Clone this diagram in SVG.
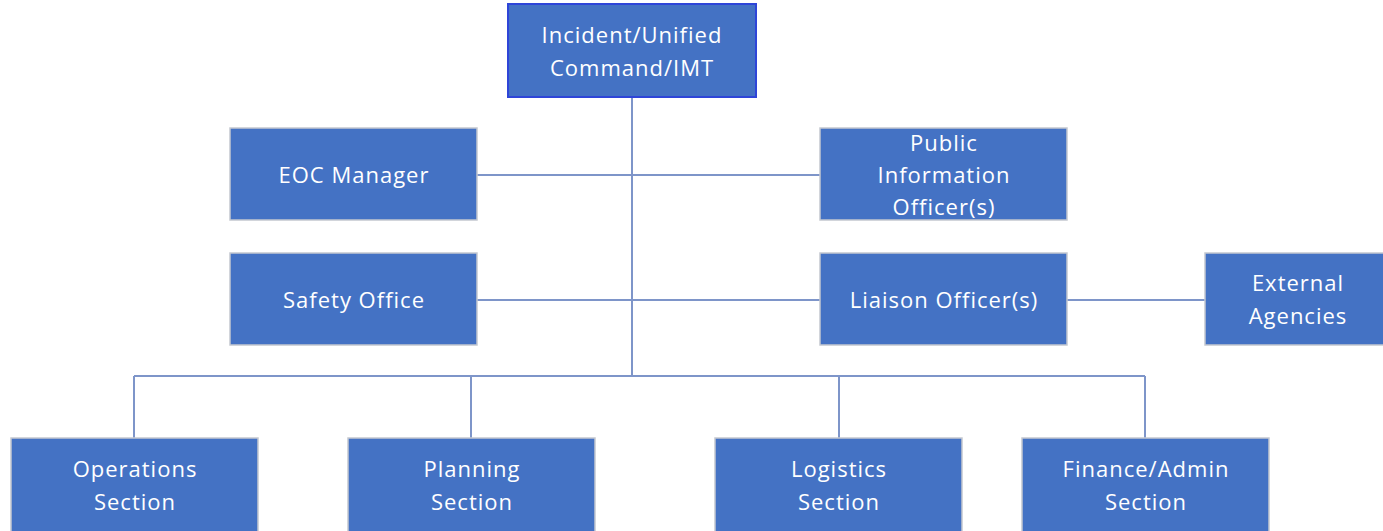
<svg xmlns="http://www.w3.org/2000/svg" width="1383" height="531" viewBox="0 0 1383 531">
<style>
.box{fill:#4472C4;stroke:#C4C8CF;stroke-width:1.5}
.top{fill:#4472C4;stroke:#2E45D8;stroke-width:2}
.lbl{fill:#FFFFFF;font-family:"Open Sans","Liberation Sans",sans-serif;font-size:22px;text-anchor:middle;letter-spacing:1px}
.con{stroke:#7E95C9;stroke-width:2;fill:none}
</style>
<rect width="1383" height="531" fill="#FFFFFF"/>
<g id="connectors">
<path class="con" d="M632 97V376"/>
<path class="con" d="M134 376H1145"/>
<path class="con" d="M134 376V438M471 376V438M839 376V438M1145 376V438"/>
<path class="con" d="M477 175H820"/>
<path class="con" d="M477 300H820"/>
<path class="con" d="M1067 300H1205"/>
</g>
<g id="incident-command">
<rect class="top" x="508" y="4" width="248" height="93"/>
<text class="lbl" x="632" y="43">Incident/Unified</text>
<text class="lbl" x="632" y="76">Command/IMT</text>
</g>
<g id="eoc-manager">
<rect class="box" x="230" y="128" width="247" height="92"/>
<text class="lbl" x="354" y="183">EOC Manager</text>
</g>
<g id="public-information">
<rect class="box" x="820" y="128" width="247" height="92"/>
<text class="lbl" x="944" y="151">Public</text>
<text class="lbl" x="944" y="183">Information</text>
<text class="lbl" x="944" y="215">Officer(s)</text>
</g>
<g id="safety-office">
<rect class="box" x="230" y="253" width="247" height="92"/>
<text class="lbl" x="354" y="308">Safety Office</text>
</g>
<g id="liaison-officer">
<rect class="box" x="820" y="253" width="247" height="92"/>
<text class="lbl" x="944" y="308">Liaison Officer(s)</text>
</g>
<g id="external-agencies">
<rect class="box" x="1205" y="253" width="180" height="92"/>
<text class="lbl" x="1298" y="291">External</text>
<text class="lbl" x="1298" y="324">Agencies</text>
</g>
<g id="operations">
<rect class="box" x="11" y="438" width="247" height="95"/>
<text class="lbl" x="135" y="477">Operations</text>
<text class="lbl" x="135" y="510">Section</text>
</g>
<g id="planning">
<rect class="box" x="348" y="438" width="247" height="95"/>
<text class="lbl" x="472" y="477">Planning</text>
<text class="lbl" x="472" y="510">Section</text>
</g>
<g id="logistics">
<rect class="box" x="715" y="438" width="247" height="95"/>
<text class="lbl" x="839" y="477">Logistics</text>
<text class="lbl" x="839" y="510">Section</text>
</g>
<g id="finance-admin">
<rect class="box" x="1022" y="438" width="247" height="95"/>
<text class="lbl" x="1146" y="477">Finance/Admin</text>
<text class="lbl" x="1146" y="510">Section</text>
</g>
</svg>
